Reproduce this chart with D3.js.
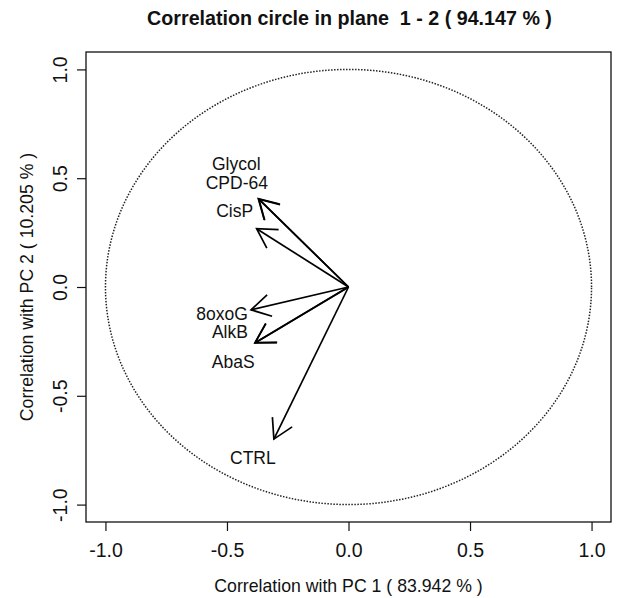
<!DOCTYPE html>
<html>
<head>
<meta charset="utf-8">
<script src="https://cdn.jsdelivr.net/npm/d3@7"></script>
<style>
  body { margin: 0; background: #fff; }
  svg text { font-family: "Liberation Sans", Arial, Helvetica, sans-serif; fill: #111; }
</style>
</head>
<body>
<div id="chart"></div>
<script>
// Correlation circle, PCA plane 1-2

const variables = ['Glycol', 'CPD-64', 'CisP', '8oxoG', 'AlkB', 'AbaS', 'CTRL'];
const pc1 = [-0.371, -0.369, -0.378, -0.401, -0.385, -0.384, -0.307];
const pc2 = [0.406, 0.404, 0.268, -0.105, -0.257, -0.256, -0.699];
const tickValues = [-1.0, -0.5, 0.0, 0.5, 1.0];
const titleText = 'Correlation circle in plane\u00a0\u00a01 - 2 ( 94.147 % )';
const xLabelText = 'Correlation with PC 1 ( 83.942 % )';
const yLabelText = 'Correlation with PC 2 ( 10.205 % )';

// label nudges (px) from arrow tips, layout only
const labelNudge = {
    'Glycol': [-22, -29], 'CPD-64': [-22, -10], 'CisP': [-22, -12],
    '8oxoG': [-29, 10], 'AlkB': [-25, -5], 'AbaS': [-22, 25], 'CTRL': [-21, 25]
};

const W = 617, H = 598;
const box = { left: 86, right: 611, top: 52, bottom: 522 };

const svg = d3.select('#chart').append('svg')
    .attr('width', W)
    .attr('height', H);

const x = d3.scaleLinear().domain([-1.08, 1.08]).range([box.left, box.right]);
const y = d3.scaleLinear().domain([-1.08, 1.08]).range([box.bottom, box.top]);

// Unit circle (dotted)
const circlePts = d3.range(0, 361, 2).map(a => [Math.cos(a * Math.PI / 180), Math.sin(a * Math.PI / 180)]);
svg.append('path')
    .datum(circlePts)
    .attr('d', d3.line().x(d => x(d[0])).y(d => y(d[1])))
    .attr('fill', 'none')
    .attr('stroke', '#222')
    .attr('stroke-width', 1.5)
    .attr('stroke-dasharray', '1.5,1.5');

// Arrows
const rows = variables.map((v, i) => ({ name: v, pc1: pc1[i], pc2: pc2[i] }));
const headLen = 22, headAng = Math.PI / 6;

rows.forEach(d => {
    const x0 = x(0), y0 = y(0), x1 = x(d.pc1), y1 = y(d.pc2);
    const ang = Math.atan2(y1 - y0, x1 - x0);
    const h1 = [x1 - headLen * Math.cos(ang - headAng), y1 - headLen * Math.sin(ang - headAng)];
    const h2 = [x1 - headLen * Math.cos(ang + headAng), y1 - headLen * Math.sin(ang + headAng)];
    svg.append('line')
        .attr('x1', x0).attr('y1', y0).attr('x2', x1).attr('y2', y1)
        .attr('stroke', '#000').attr('stroke-width', 1.7);
    svg.append('path')
        .attr('d', `M${h1[0]},${h1[1]}L${x1},${y1}L${h2[0]},${h2[1]}`)
        .attr('fill', 'none').attr('stroke', '#000').attr('stroke-width', 1.7);
});

svg.selectAll('.var-label')
    .data(rows)
    .enter()
    .append('text')
    .attr('class', 'var-label')
    .attr('x', d => x(d.pc1) + labelNudge[d.name][0])
    .attr('y', d => y(d.pc2) + labelNudge[d.name][1])
    .attr('text-anchor', 'middle')
    .style('font-size', '17.5px')
    .text(d => d.name);

// Axes
const xAxis = svg.append('g')
    .attr('transform', `translate(0,${box.bottom})`)
    .call(d3.axisBottom(x).tickValues(tickValues).tickFormat(d => d.toFixed(1)).tickSize(9).tickPadding(12).tickSizeOuter(0));
xAxis.select('.domain').remove();
xAxis.selectAll('line').attr('stroke', '#111').attr('stroke-width', 1.2);
xAxis.selectAll('text').style('font-size', '19.5px').attr('font-family', null);

const yAxis = svg.append('g')
    .attr('transform', `translate(${box.left},0)`)
    .call(d3.axisLeft(y).tickValues(tickValues).tickFormat(d => d.toFixed(1)).tickSize(9).tickSizeOuter(0));
yAxis.select('.domain').remove();
yAxis.selectAll('line').attr('stroke', '#111').attr('stroke-width', 1.2);
yAxis.selectAll('text')
    .attr('x', 0)
    .attr('dy', 0)
    .attr('text-anchor', 'middle')
    .attr('transform', 'translate(-19,0) rotate(-90)')
    .attr('font-family', null)
    .style('font-size', '19.5px');

// Plot box
svg.append('rect')
    .attr('x', box.left).attr('y', box.top)
    .attr('width', box.right - box.left).attr('height', box.bottom - box.top)
    .attr('fill', 'none').attr('stroke', '#111').attr('stroke-width', 1.3);

// Titles
svg.append('text')
    .attr('x', (box.left + box.right) / 2 + 1)
    .attr('y', 25)
    .attr('text-anchor', 'middle')
    .style('font-size', '19.7px')
    .style('font-weight', 'bold')
    .text(titleText);

svg.append('text')
    .attr('x', (box.left + box.right) / 2)
    .attr('y', 592)
    .attr('text-anchor', 'middle')
    .style('font-size', '17.7px')
    .text(xLabelText);

svg.append('text')
    .attr('transform', `translate(33,${(box.top + box.bottom) / 2}) rotate(-90)`)
    .attr('text-anchor', 'middle')
    .style('font-size', '17.7px')
    .text(yLabelText);
</script>
</body>
</html>
